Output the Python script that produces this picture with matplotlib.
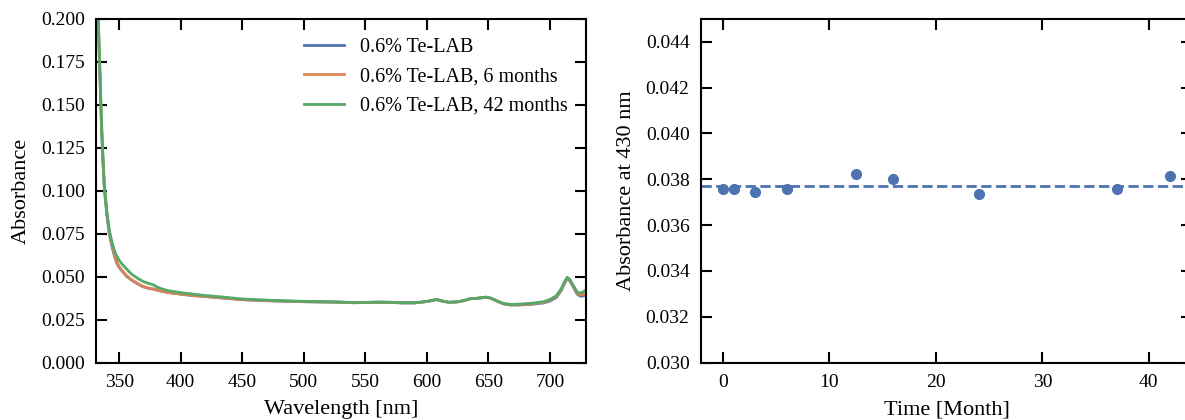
import matplotlib
matplotlib.use("Agg")
import matplotlib.pyplot as plt
import numpy as np

plt.rcParams['font.family'] = ['Liberation Serif', 'DejaVu Serif']
plt.rcParams['axes.linewidth'] = 1.5

# spectra
wavelength = [331, 332, 333, 334, 335, 336, 337, 338, 340, 342, 344, 346, 348, 350,
              353, 356, 360, 365, 370, 375, 378, 380, 385, 390, 400, 410, 420, 430,
              440, 450, 470, 500, 530, 540, 550, 560, 570, 580, 590, 600, 605, 608,
              612, 618, 625, 630, 635, 640, 645, 648, 652, 657, 662, 668, 675, 685,
              695, 700, 705, 709, 712, 714, 716, 719, 722, 725, 729]

abs_fresh = [0.260, 0.225, 0.198, 0.176, 0.152, 0.131, 0.115, 0.101, 0.086, 0.075, 0.068,
             0.0625, 0.058, 0.0555, 0.0528, 0.0503, 0.0480, 0.0458, 0.0440, 0.0430, 0.0427,
             0.0423, 0.0414, 0.0407, 0.0398, 0.0390, 0.0384, 0.0378, 0.0372, 0.0366, 0.0360,
             0.0354, 0.0351, 0.0348, 0.0349, 0.0351, 0.0350, 0.0347, 0.0347, 0.0355, 0.0362,
             0.0366, 0.0358, 0.0350, 0.0353, 0.0360, 0.0371, 0.0373, 0.0377, 0.0380, 0.0374,
             0.0357, 0.0342, 0.0335, 0.0335, 0.0339, 0.0347, 0.0358, 0.0378, 0.0418, 0.0465,
             0.0488, 0.0476, 0.0438, 0.0398, 0.0385, 0.0392]

abs_6m = [0.262, 0.228, 0.201, 0.178, 0.154, 0.133, 0.116, 0.102, 0.087, 0.076, 0.069,
          0.0632, 0.0585, 0.0558, 0.0530, 0.0505, 0.0482, 0.0460, 0.0441, 0.0431, 0.0428,
          0.0424, 0.0415, 0.0407, 0.0398, 0.0390, 0.0384, 0.0378, 0.0372, 0.0366, 0.0360,
          0.0354, 0.0351, 0.0348, 0.0349, 0.0351, 0.0350, 0.0347, 0.0347, 0.0355, 0.0362,
          0.0366, 0.0358, 0.0350, 0.0353, 0.0360, 0.0371, 0.0373, 0.0377, 0.0380, 0.0374,
          0.0357, 0.0342, 0.0335, 0.0336, 0.0341, 0.0350, 0.0362, 0.0382, 0.0422, 0.0468,
          0.0489, 0.0478, 0.0442, 0.0403, 0.0393, 0.0400]

abs_42m = [0.264, 0.229, 0.202, 0.179, 0.155, 0.134, 0.117, 0.103, 0.088, 0.077, 0.0705,
           0.0655, 0.0620, 0.0595, 0.0568, 0.0545, 0.0515, 0.0490, 0.0470, 0.0458, 0.0452,
           0.0442, 0.0428, 0.0418, 0.0407, 0.0398, 0.0390, 0.0384, 0.0377, 0.0370, 0.0363,
           0.0356, 0.0352, 0.0349, 0.0350, 0.0352, 0.0351, 0.0348, 0.0348, 0.0356, 0.0363,
           0.0367, 0.0359, 0.0351, 0.0354, 0.0361, 0.0372, 0.0374, 0.0378, 0.0381, 0.0375,
           0.0358, 0.0344, 0.0338, 0.0340, 0.0345, 0.0354, 0.0367, 0.0388, 0.0428, 0.0474,
           0.0496, 0.0484, 0.0448, 0.0410, 0.0404, 0.0421]

series_labels = ['0.6% Te-LAB', '0.6% Te-LAB, 6 months', '0.6% Te-LAB, 42 months']
series_colors = ['#4C72B0', '#DD8452', '#55A868']

# absorbance at 430 nm vs storage time
months = [0, 1, 3, 6, 12.5, 16, 24, 37, 42]
abs_430 = [0.03758, 0.03758, 0.03745, 0.03758, 0.03822, 0.03801, 0.03734, 0.03758, 0.03816]

fig = plt.figure(figsize=(11.85, 4.2), dpi=100)
ax1 = fig.add_axes([0.0808, 0.1369, 0.4135, 0.8179])
ax2 = fig.add_axes([0.5913, 0.1369, 0.4150, 0.8179])

for ys, lab, col in zip([abs_fresh, abs_6m, abs_42m], series_labels, series_colors):
    ax1.plot(wavelength, ys, color=col, lw=2, label=lab)
ax1.set_xlim(331, 729)
ax1.set_ylim(0, 0.2)
ax1.set_yticks(np.arange(0, 0.2001, 0.025))
ax1.set_xticks(np.arange(350, 701, 50))
ax1.set_xlabel('Wavelength [nm]', fontsize=16, labelpad=7)
ax1.set_ylabel('Absorbance', fontsize=16, labelpad=7)
ax1.legend(loc='upper right', bbox_to_anchor=(0.993, 0.985), frameon=False, fontsize=14.5,
           handlelength=2.0, borderaxespad=0.3, labelspacing=0.5)

ax2.plot(months, abs_430, 'o', color='#4C72B0', ms=7)
ax2.axhline(np.mean(abs_430), color='#4C72B0', ls='--', lw=2)
ax2.set_xlim(-2.1, 44.1)
ax2.set_ylim(0.030, 0.045)
ax2.set_yticks(np.arange(0.030, 0.0441, 0.002))
ax2.set_xticks([0, 10, 20, 30, 40])
ax2.set_xlabel('Time [Month]', fontsize=16, labelpad=7)
ax2.set_ylabel('Absorbance at 430 nm', fontsize=16, labelpad=7)

for ax in (ax1, ax2):
    ax.tick_params(direction='in', top=True, right=True, length=8, width=1.5,
                   labelsize=14, pad=8)
    ax.yaxis.set_major_formatter(matplotlib.ticker.FormatStrFormatter('%.3f'))

fig.savefig('out.png', dpi=100)
